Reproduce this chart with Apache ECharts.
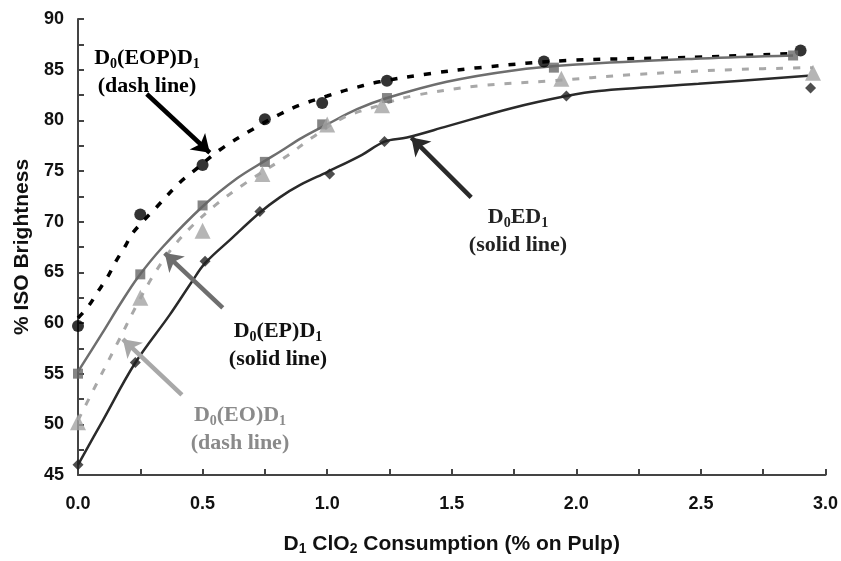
<!DOCTYPE html>
<html>
<head>
<meta charset="utf-8">
<script src="https://cdn.jsdelivr.net/npm/echarts@6/dist/echarts.min.js"></script>
<style>
  html, body { margin: 0; padding: 0; background: #fff; }
  #main { width: 841px; height: 561px; }
</style>
</head>
<body>
<div id="main"></div>
<script>
// measured points
const eopX = [0, 0.25, 0.50, 0.75, 0.98, 1.24, 1.87, 2.90];
const eopY = [59.7, 70.7, 75.6, 80.1, 81.7, 83.9, 85.8, 86.9];
const epX = [0, 0.25, 0.50, 0.75, 0.98, 1.24, 1.91, 2.87];
const epY = [55.0, 64.8, 71.6, 75.9, 79.6, 82.2, 85.2, 86.4];
const eoX = [0, 0.25, 0.50, 0.74, 1.00, 1.22, 1.94, 2.95];
const eoY = [50.2, 62.5, 69.1, 74.7, 79.6, 81.5, 84.1, 84.7];
const edX = [0, 0.23, 0.51, 0.73, 1.01, 1.23, 1.96, 2.94];
const edY = [46.0, 56.1, 66.1, 71.0, 74.7, 77.9, 82.4, 83.2];

// fitted curves
const eopFitX = [0, 0.04, 0.08, 0.12, 0.15, 0.19, 0.22, 0.31, 0.41, 0.46, 0.57, 0.70, 0.81, 0.89, 1.00, 1.08, 1.21, 1.41, 1.61, 1.96, 2.44, 2.88];
const eopFitY = [60.5, 61.6, 63.1, 64.6, 66.0, 67.6, 68.9, 71.3, 73.9, 74.9, 77.1, 79.1, 80.6, 81.5, 82.4, 83.0, 83.8, 84.6, 85.2, 85.9, 86.2, 86.6];
const epFitX = [0, 0.10, 0.17, 0.24, 0.34, 0.50, 0.64, 0.75, 0.81, 0.90, 1.00, 1.12, 1.24, 1.48, 1.74, 2.00, 2.50, 2.87];
const epFitY = [55.2, 59.1, 61.9, 64.5, 67.5, 71.5, 74.3, 76.0, 76.9, 78.3, 79.6, 81.1, 82.2, 83.8, 84.9, 85.5, 86.1, 86.4];
const eoFitX = [0, 0.06, 0.16, 0.23, 0.30, 0.375, 0.455, 0.555, 0.66, 0.84, 0.94, 1.06, 1.20, 1.34, 1.61, 1.90, 2.22, 2.62, 2.95];
const eoFitY = [50.4, 53.3, 58.1, 61.5, 64.6, 67.3, 69.5, 71.7, 73.6, 76.5, 78.3, 80.2, 81.4, 82.4, 83.4, 83.9, 84.5, 85.0, 85.2];
const edFitX = [0, 0.10, 0.228, 0.368, 0.455, 0.51, 0.61, 0.73, 0.81, 0.89, 1.00, 1.14, 1.23, 1.32, 1.48, 1.74, 1.96, 2.09, 2.49, 2.93];
const edFitY = [46.0, 50.4, 56.0, 60.8, 64.0, 65.9, 68.2, 70.9, 72.4, 73.6, 74.9, 76.6, 77.9, 78.3, 79.4, 81.2, 82.4, 82.9, 83.6, 84.4];

// arrow start/end in data units
const eopArrow = [[0.276, 82.6], [0.529, 76.8]];
const epArrow = [[0.581, 61.5], [0.348, 66.9]];
const eoArrow = [[0.417, 52.9], [0.18, 58.4]];
const edArrow = [[1.578, 72.4], [1.338, 78.3]];

const zip = (xs, ys) => xs.map((x, i) => [x, ys[i]]);

const serif = '"Liberation Serif", "DejaVu Serif", serif';
const sans = '"Liberation Sans", Arial, sans-serif';

function arrow(pts, color) {
  return {
    silent: true,
    animation: false,
    symbol: ['none', 'arrow'],
    symbolSize: 17,
    label: { show: false },
    lineStyle: { color: color, width: 4.5, type: 'solid' },
    data: [[{ coord: pts[0] }, { coord: pts[1] }]]
  };
}

function fitLine(name, xs, ys, color, width, dashed, arr) {
  return {
    name: name,
    type: 'line',
    data: zip(xs, ys),
    smooth: 0.35,
    showSymbol: false,
    silent: true,
    lineStyle: {
      color: color,
      width: width,
      type: dashed ? [7, 10] : 'solid'
    },
    markLine: arrow(arr[0], arr[1]),
    z: 2
  };
}

function points(name, xs, ys, symbol, size, color) {
  return {
    name: name,
    type: 'scatter',
    data: zip(xs, ys),
    symbol: symbol,
    symbolSize: size,
    itemStyle: { color: color },
    z: 3
  };
}

function label(x, y, main, sub, color) {
  // "D0(...)D1" with subscripts, then the line style note below
  return [{
    type: 'text',
    x: x,
    y: y,
    style: {
      text: main,
      fill: color,
      align: 'center',
      verticalAlign: 'middle',
      font: 'bold 22px ' + serif,
      rich: {
        n: { fontFamily: serif, fontWeight: 'bold', fontSize: 22, fill: color, verticalAlign: 'middle' },
        s: { fontFamily: serif, fontWeight: 'bold', fontSize: 14, fill: color, verticalAlign: 'middle', padding: [12, 0, 0, 0] }
      }
    }
  }, {
    type: 'text',
    x: x,
    y: y + 28,
    style: {
      text: sub,
      fill: color,
      align: 'center',
      verticalAlign: 'middle',
      font: 'bold 22px ' + serif
    }
  }];
}

const chart = echarts.init(document.getElementById('main'), null, { renderer: 'canvas' });

const option = {
  backgroundColor: '#fff',
  animation: false,
  grid: { left: 78, right: 14, top: 19, bottom: 78, containLabel: false },
  xAxis: {
    type: 'value',
    min: 0,
    max: 3,
    interval: 0.5,
    name: '{b|D}{s|1}{b| ClO}{s|2}{b| Consumption (% on Pulp)}',
    nameLocation: 'middle',
    nameGap: 58,
    nameTextStyle: {
      rich: {
        b: { fontFamily: sans, fontWeight: 'bold', fontSize: 21, color: '#111', verticalAlign: 'middle' },
        s: { fontFamily: sans, fontWeight: 'bold', fontSize: 14, color: '#111', verticalAlign: 'middle', padding: [9, 0, 0, 0] }
      }
    },
    axisLine: { lineStyle: { color: '#444', width: 2 } },
    axisTick: { inside: true, length: 6, lineStyle: { color: '#444', width: 2 } },
    minorTick: { show: true, splitNumber: 2, length: 6, lineStyle: { color: '#444', width: 2 } },
    splitLine: { show: false },
    axisLabel: {
      margin: 20,
      fontFamily: sans,
      fontWeight: 'bold',
      fontSize: 18,
      color: '#111',
      formatter: v => v.toFixed(1)
    }
  },
  yAxis: {
    type: 'value',
    min: 45,
    max: 90,
    interval: 5,
    name: '% ISO Brightness',
    nameLocation: 'middle',
    nameGap: 44,
    nameTextStyle: { fontFamily: sans, fontWeight: 'bold', fontSize: 21, color: '#111' },
    axisLine: { show: true, lineStyle: { color: '#444', width: 2 } },
    axisTick: { show: true, inside: true, length: 6, lineStyle: { color: '#444', width: 2 } },
    minorTick: { show: true, splitNumber: 2, length: 6, lineStyle: { color: '#444', width: 2 } },
    splitLine: { show: false },
    axisLabel: {
      margin: 14,
      fontFamily: sans,
      fontWeight: 'bold',
      fontSize: 18,
      color: '#111'
    }
  },
  series: [
    fitLine('D0(EOP)D1 fit', eopFitX, eopFitY, '#000', 3.5, true, [eopArrow, '#000']),
    fitLine('D0(EP)D1 fit', epFitX, epFitY, '#6e6e6e', 2.5, false, [epArrow, '#6e6e6e']),
    fitLine('D0(EO)D1 fit', eoFitX, eoFitY, '#a8a8a8', 3, true, [eoArrow, '#a8a8a8']),
    fitLine('D0ED1 fit', edFitX, edFitY, '#2a2a2a', 2.5, false, [edArrow, '#2a2a2a']),
    points('D0(EOP)D1', eopX, eopY, 'circle', 12, '#000'),
    points('D0(EP)D1', epX, epY, 'rect', 10, '#666'),
    points('D0(EO)D1', eoX, eoY, 'triangle', 16, '#a3a3a3'),
    points('D0ED1', edX, edY, 'diamond', 11, '#222')
  ],
  graphic: [].concat(
    label(147, 58, '{n|D}{s|0}{n|(EOP)D}{s|1}', '(dash line)', '#000'),
    label(278, 331, '{n|D}{s|0}{n|(EP)D}{s|1}', '(solid line)', '#111'),
    label(240, 415, '{n|D}{s|0}{n|(EO)D}{s|1}', '(dash line)', '#8a8a8a'),
    label(518, 217, '{n|D}{s|0}{n|ED}{s|1}', '(solid line)', '#222')
  )
};

chart.setOption(option);
</script>
</body>
</html>
